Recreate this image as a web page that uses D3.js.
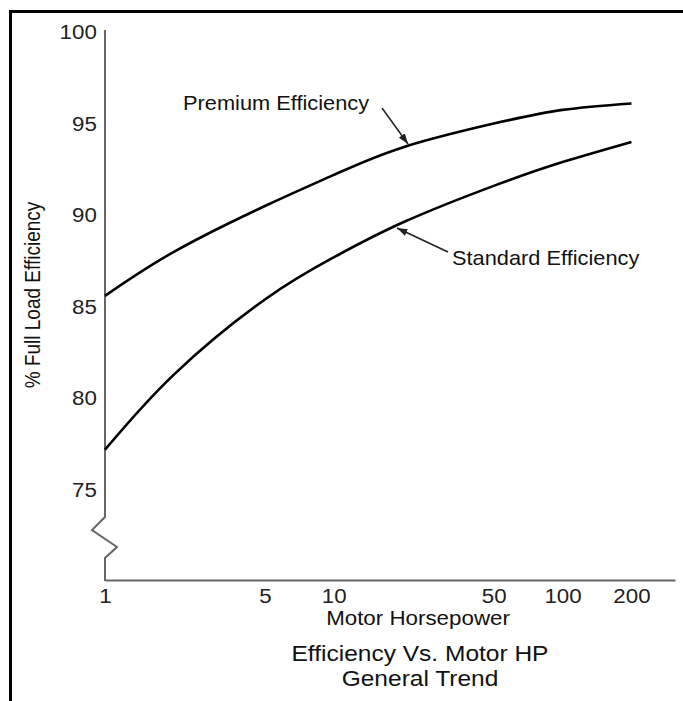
<!DOCTYPE html>
<html>
<head>
<meta charset="utf-8">
<script src="https://cdn.jsdelivr.net/npm/d3@7"></script>
<style>
  body { margin: 0; background: #fff; }
  svg { display: block; font-family: "Liberation Sans", Arial, sans-serif; }
  .tick text { fill: #222; }
</style>
</head>
<body>
<div class="wrapper"></div>
<script>
// motor horsepower sampled along the curves
var hp = [1, 2, 5, 10, 20, 50, 100, 200];
var premium = [85.6, 88.0, 90.5, 92.2, 93.7, 95.0, 95.75, 96.1];
var standard = [77.2, 81.3, 85.4, 87.7, 89.6, 91.6, 92.9, 94.0];
var xTicks = [1, 5, 10, 50, 100, 200];
var yTicks = [75, 80, 85, 90, 95, 100];

var width = 683,
    height = 701;

// the original lettering is a little wider than the font
var stretch = 1.09;

var svg = d3.select(".wrapper").append("svg")
    .attr("width", width)
    .attr("height", height);

// frame (only top and left visible in the original)
svg.append("rect")
    .attr("x", 10.5).attr("y", 11.5)
    .attr("width", 720).attr("height", 740)
    .attr("fill", "none")
    .attr("stroke", "#000")
    .attr("stroke-width", 3);

var x = d3.scaleLog()
    .domain([1, 310])
    .range([105, 675]);

var y = d3.scaleLinear()
    .domain([75, 100])
    .range([490, 32]);

var baseY = 580;

// x axis
var xAxis = svg.append("g")
    .attr("transform", "translate(0," + baseY + ")")
    .call(d3.axisBottom(x).tickValues(xTicks).tickSize(0).tickPadding(8).tickFormat(d3.format("d")));
xAxis.select(".domain").attr("stroke", "#666").attr("stroke-width", 2);
xAxis.selectAll("text")
    .attr("font-size", 20.5)
    .attr("font-family", "Liberation Sans, Arial, sans-serif")
    .attr("transform", "scale(" + stretch + ",1)");

// y axis, drawn without its domain line
var yAxis = svg.append("g")
    .attr("transform", "translate(" + x(1) + ",0)")
    .call(d3.axisLeft(y).tickValues(yTicks).tickSize(0).tickPadding(7.5));
yAxis.select(".domain").remove();
yAxis.selectAll("text")
    .attr("font-size", 20.5)
    .attr("font-family", "Liberation Sans, Arial, sans-serif")
    .attr("transform", "scale(" + stretch + ",1)");

// y axis line with the break symbol
var x0 = x(1);
var axisPath = d3.path();
axisPath.moveTo(x0, 30);
axisPath.lineTo(x0, 517);
axisPath.lineTo(x0 - 13, 530);
axisPath.lineTo(x0 + 12, 547);
axisPath.lineTo(x0, 558);
axisPath.lineTo(x0, baseY + 1);
svg.append("path")
    .attr("d", axisPath.toString())
    .attr("fill", "none")
    .attr("stroke", "#666")
    .attr("stroke-width", 2);

// curves
var line = d3.line()
    .x(function(d) { return x(d[0]); })
    .y(function(d) { return y(d[1]); })
    .curve(d3.curveNatural);

[premium, standard].forEach(function(series) {
  svg.append("path")
      .datum(hp.map(function(h, i) { return [h, series[i]]; }))
      .attr("d", line)
      .attr("fill", "none")
      .attr("stroke", "#000")
      .attr("stroke-width", 2.6);
});

// arrowhead
svg.append("defs").append("marker")
    .attr("id", "arrow")
    .attr("viewBox", "0 0 10 10")
    .attr("refX", 10).attr("refY", 5)
    .attr("markerWidth", 7).attr("markerHeight", 7)
    .attr("orient", "auto")
  .append("path")
    .attr("d", "M0,1.5L10,5L0,8.5Z")
    .attr("fill", "#222");

function label(tx, ty, size, anchor, str) {
  svg.append("text")
      .attr("transform", "translate(" + tx + "," + ty + ") scale(" + stretch + ",1)")
      .attr("text-anchor", anchor)
      .attr("font-size", size)
      .attr("fill", "#111")
      .text(str);
}

// annotations
label(183, 110, 20, "start", "Premium Efficiency");
svg.append("line")
    .attr("x1", 382).attr("y1", 108)
    .attr("x2", 408).attr("y2", 144)
    .attr("stroke", "#222").attr("stroke-width", 1.5)
    .attr("marker-end", "url(#arrow)");

label(452, 265, 20, "start", "Standard Efficiency");
svg.append("line")
    .attr("x1", 448).attr("y1", 252)
    .attr("x2", 397).attr("y2", 228)
    .attr("stroke", "#222").attr("stroke-width", 1.5)
    .attr("marker-end", "url(#arrow)");

// axis titles
label(418, 625, 20.5, "middle", "Motor Horsepower");

svg.append("text")
    .attr("transform", "translate(40,295) rotate(-90) scale(1,1.15)")
    .attr("text-anchor", "middle")
    .attr("font-size", 19)
    .attr("fill", "#111")
    .text("% Full Load Efficiency");

label(420, 661, 22.5, "middle", "Efficiency Vs. Motor HP");
label(420, 686, 22.5, "middle", "General Trend");
</script>
</body>
</html>
